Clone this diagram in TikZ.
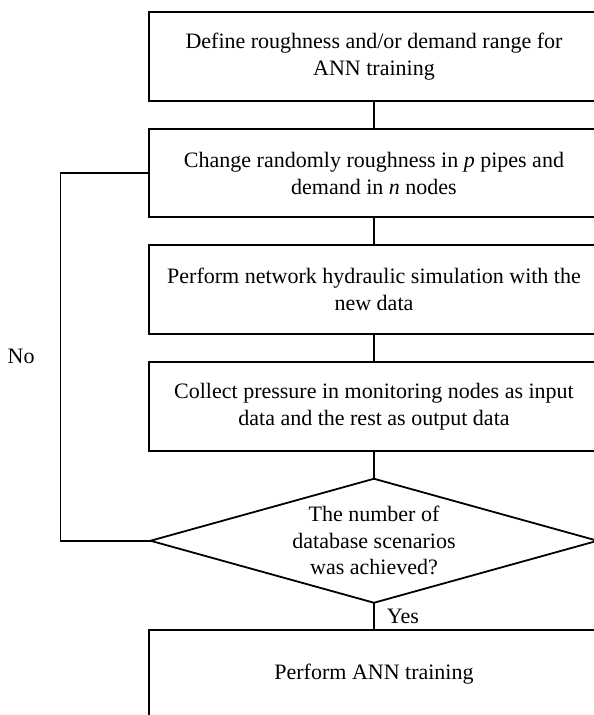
\documentclass[tikz,border=0pt]{standalone}
\usepackage{fontspec}
\setmainfont{Liberation Serif}
\usetikzlibrary{positioning,shapes.geometric}

\tikzset{
    stepbox/.style={draw, line width=1.8pt, minimum width=450pt, minimum height=88.5pt,
        align=center, inner sep=0pt, outer sep=0pt, font=\fontsize{22}{27}\selectfont},
    testbox/.style={draw, diamond, line width=1.8pt, aspect=3.6, minimum width=447pt,
        minimum height=124pt, align=center, inner sep=0pt, outer sep=0pt, font=\fontsize{22}{26.5}\selectfont},
    link/.style={line width=1.8pt}
}

\begin{document}
\begin{tikzpicture}[node distance=28pt]
                \useasboundingbox (0,0) rectangle (594pt,-715pt);
                \clip (0,0) rectangle (594pt,-715pt);
                \node[stepbox] (range) at (374pt,-56.5pt) {Define roughness and/or demand range for\\ANN training};
                \node[stepbox, below=28pt of range] (change) {Change randomly roughness in \textit{p} pipes and\\demand in \textit{n} nodes};
                \node[stepbox, below=28pt of change] (simul) {Perform network hydraulic simulation with the\\new data};
                \node[stepbox, below=28.5pt of simul] (collect) {Collect pressure in monitoring nodes as input\\data and the rest as output data};
                \node[testbox, below=28pt of collect] (check) {The number of\\database scenarios\\was achieved?};
                \node[stepbox, below=27pt of check] (train) {Perform ANN training};
                \draw[link] (range) -- (change);
                \draw[link] (change) -- (simul);
                \draw[link] (simul) -- (collect);
                \draw[link] (collect) -- (check);
                \draw[link] (check) -- (train) node[midway, right=12pt, inner sep=0pt] (yes) {\fontsize{22}{26.5}\selectfont Yes};
                \draw[link] (check.west) -- ++(-90pt,0) coordinate (loop) |- (change.west)
                    node[pos=0.25, left=25pt, inner sep=0pt] (no) {\fontsize{22}{26.5}\selectfont No};
            \end{tikzpicture}
\end{document}
